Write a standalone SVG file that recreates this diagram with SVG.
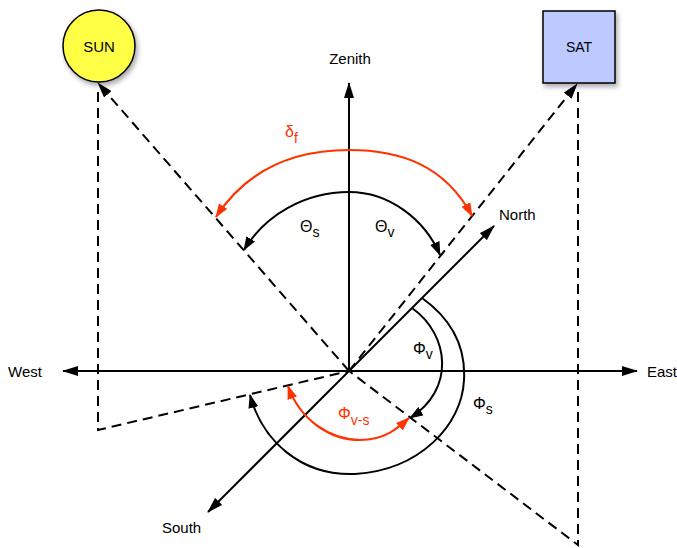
<svg xmlns="http://www.w3.org/2000/svg" width="677" height="548" viewBox="0 0 677 548">
<style>
text{font-family:"Liberation Sans",Helvetica,Arial,sans-serif;font-size:15px;fill:#000}
.g{font-size:16px}
.red{fill:#ff3300}
.sub{font-size:14px}
.ax{stroke:#000;stroke-width:2;fill:none}
.dash{stroke:#000;stroke-width:2;fill:none;stroke-dasharray:10,6}
.arc{stroke:#000;stroke-width:2;fill:none}
.rarc{stroke:#ff3300;stroke-width:2.2;fill:none}
</style>
<defs>
<marker id="ah" viewBox="0 0 16 10" refX="15" refY="5" markerWidth="16" markerHeight="10" markerUnits="userSpaceOnUse" orient="auto"><path d="M0,0 L16,5 L0,10 z" fill="#000"/></marker>
<marker id="ahs" viewBox="0 0 14 10" refX="13" refY="5" markerWidth="14" markerHeight="10" markerUnits="userSpaceOnUse" orient="auto"><path d="M0,0 L14,5 L0,10 z" fill="#000"/></marker>
<marker id="ahr" viewBox="0 0 14 10" refX="13" refY="5" markerWidth="14" markerHeight="10" markerUnits="userSpaceOnUse" orient="auto-start-reverse"><path d="M0,0 L14,5 L0,10 z" fill="#ff3300"/></marker>
<filter id="sh" x="-30%" y="-30%" width="160%" height="160%"><feDropShadow dx="2" dy="3" stdDeviation="2.5" flood-color="#000" flood-opacity="0.35"/></filter>
</defs>
<g id="sun"><circle cx="99" cy="46" r="36" fill="#ffff44" stroke="#000" stroke-width="1.5" filter="url(#sh)"/><text x="99" y="52" text-anchor="middle">SUN</text></g>
<g id="sat"><rect x="543" y="11" width="72" height="72" fill="#bccaff" stroke="#000" stroke-width="1.5" filter="url(#sh)"/><text x="579" y="52" text-anchor="middle" style="font-size:14px">SAT</text></g>
<g id="connectors">
<path class="ax" d="M349,371 L349,83" marker-end="url(#ah)"/>
<path class="ax" d="M349,371 L63,371" marker-end="url(#ah)"/>
<path class="ax" d="M349,371 L637,371" marker-end="url(#ah)"/>
<path class="ax" d="M349,371 L494,226" marker-end="url(#ah)"/>
<path class="ax" d="M349,371 L208,512" marker-end="url(#ah)"/>
<path class="dash" d="M349,371 L98,83" marker-end="url(#ah)"/>
<path class="dash" d="M98,92 L98,430 L349,371"/>
<path class="dash" d="M349,371 L577,84" marker-end="url(#ah)"/>
<path class="dash" d="M578,92 L578,545 L349,371"/>
<path class="arc" d="M349,192 C305,192 265,215 244,250" marker-end="url(#ahs)"/>
<path class="arc" d="M349,192 C390,192 425,220 440,255" marker-end="url(#ahs)"/>
<path class="rarc" d="M216,217 C250,165 300,150 349,150 C400,150 445,165 472,216" marker-start="url(#ahr)" marker-end="url(#ahr)"/>
<path class="arc" d="M412,308 C450,335 455,390 410,418" marker-end="url(#ahs)"/>
<path class="arc" d="M422,298 C450,318 466,345 464,380 C462,425 420,470 355,474 C300,476 262,440 250,395" marker-end="url(#ahs)"/>
<path class="rarc" d="M288,386 C300,420 330,440 360,440 C385,440 398,428 409,418" marker-start="url(#ahr)" marker-end="url(#ahr)"/>
</g>
<g id="labels">
<text x="350" y="64" text-anchor="middle">Zenith</text>
<text x="8" y="377">West</text>
<text x="647" y="377">East</text>
<text x="499" y="220">North</text>
<text x="162" y="533">South</text>
<text x="285" y="137" class="g red">δ<tspan class="sub" dy="6">f</tspan></text>
<text x="300" y="232" class="g">Θ<tspan class="sub" dy="5">s</tspan></text>
<text x="375" y="232" class="g">Θ<tspan class="sub" dy="5">v</tspan></text>
<text x="413" y="354" class="g">Φ<tspan class="sub" dy="5">v</tspan></text>
<text x="473" y="409" class="g">Φ<tspan class="sub" dy="5">s</tspan></text>
<text x="338" y="419" class="g red">Φ<tspan class="sub" dy="6">v-s</tspan></text>
</g>
</svg>
